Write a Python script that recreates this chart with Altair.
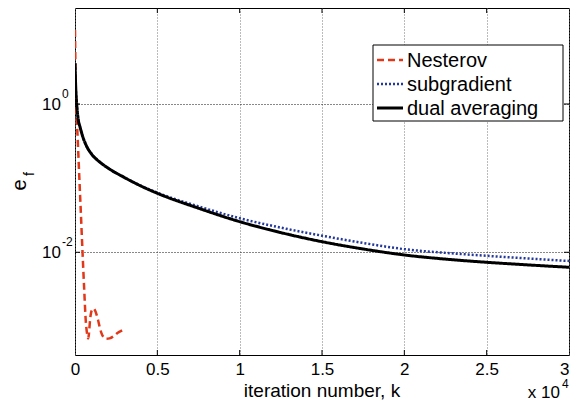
import altair as alt
import pandas as pd

# ---------------- data ----------------
series_names = ["Nesterov", "subgradient", "dual averaging"]
series_colors = ["#e2381a", "#23389a", "#000000"]
series_dash = [[7, 4], [2, 2], [1, 0]]
series_width = [2.5, 2.5, 3]

nest_k = [0, 30, 60, 100, 140, 200, 260, 340, 460, 560, 650, 720, 770, 800, 830,
          870, 920, 980, 1050, 1120, 1200, 1300, 1400, 1500, 1600, 1750, 1900,
          2100, 2350, 2600, 2800, 3000]
nest_e = [9.95, 2.88, 1.03, 0.647, 0.446, 0.218, 0.105, 0.041, 0.0097, 0.00312,
          0.00122, 0.00084, 0.00072, 0.00069, 0.00074, 0.00092, 0.00126, 0.00154,
          0.00169, 0.00175, 0.00167, 0.00147, 0.00122, 0.00098, 0.00082, 0.00071,
          0.00068, 0.00069, 0.00074, 0.00082, 0.00087, 0.00092]

sub_k = [0, 50, 100, 200, 300, 500, 700, 1000, 1500, 2000, 3000, 4000, 5000,
         7500, 10000, 12500, 15000, 17500, 20000, 22500, 25000, 27500, 30000]
sub_e = [3.54, 1.55, 1.02, 0.608, 0.494, 0.348, 0.271, 0.212, 0.165, 0.137,
         0.102, 0.079, 0.0636, 0.0416, 0.0288, 0.0215, 0.01675, 0.01336, 0.01102,
         0.00982, 0.00897, 0.00825, 0.00764]

dual_k = [0, 50, 100, 200, 300, 500, 700, 1000, 1500, 2000, 3000, 4000, 5000,
          7500, 10000, 12500, 15000, 17500, 20000, 22500, 25000, 27500, 30000]
dual_e = [3.54, 1.55, 1.02, 0.608, 0.494, 0.348, 0.271, 0.212, 0.165, 0.137,
          0.102, 0.0784, 0.0625, 0.0393, 0.0259, 0.01844, 0.0139, 0.01108, 0.0092,
          0.00809, 0.00733, 0.00676, 0.00628]

x_tick_values = [0, 5000, 10000, 15000, 20000, 25000, 30000]
x_inner_ticks = [5000, 10000, 15000, 20000, 25000]
y_tick_values = [1, 0.01]
y_tick_sup = ["0", "-2"]
x_title = "iteration number, k"

# ---------------- build tables ----------------
df = pd.concat([
    pd.DataFrame({"k": nest_k, "e": nest_e, "series": series_names[0]}),
    pd.DataFrame({"k": sub_k, "e": sub_e, "series": series_names[1]}),
    pd.DataFrame({"k": dual_k, "e": dual_e, "series": series_names[2]}),
], ignore_index=True)

W, H = 494, 347
FONT = "Liberation Sans"

xs = alt.Scale(domain=[0, 30000], nice=False, zero=False)
ys = alt.Scale(type="log", domain=[4.12e-4, 19.7], nice=False)

x_axis = alt.Axis(
    values=x_tick_values, labelExpr="datum.value / 10000 + ''",
    labelFontSize=17, labelPadding=6, ticks=False, tickSize=0, domain=False,
    grid=True, gridColor="#777777", gridDash=[1, 2], gridWidth=1,
    labelFlush=False, labelOverlap=False,
    labelAlign={"condition": {"test": "datum.value >= 30000", "value": "right"},
                "value": "center"},
    title=None,
)
y_axis = alt.Axis(
    values=y_tick_values, labels=False, ticks=False, tickSize=0, domain=False,
    grid=True, gridColor="#111111", gridDash=[1, 2], gridWidth=1, title=None,
)

layers = []
for i, name in enumerate(series_names):
    layers.append(
        alt.Chart(df).transform_filter(alt.datum.series == name)
        .mark_line(strokeWidth=series_width[i], interpolate="monotone", clip=True,
                   strokeCap="butt", color=series_colors[i],
                   strokeDash=series_dash[i])
        .encode(
            x=alt.X("k:Q", scale=xs, axis=x_axis),
            y=alt.Y("e:Q", scale=ys, axis=y_axis),
        )
    )

xt = pd.DataFrame({"k": x_inner_ticks})
yt = pd.DataFrame({"e": y_tick_values, "sup": y_tick_sup})

tick_bottom = alt.Chart(xt).mark_rule(color="black", strokeWidth=1).encode(
    x=alt.X("k:Q", scale=xs, axis=x_axis),
    y=alt.value(H - 5), y2=alt.value(H))
tick_top = alt.Chart(xt).mark_rule(color="black", strokeWidth=1).encode(
    x=alt.X("k:Q", scale=xs, axis=x_axis),
    y=alt.value(0), y2=alt.value(5))
tick_left = alt.Chart(yt).mark_rule(color="black", strokeWidth=1).encode(
    y=alt.Y("e:Q", scale=ys, axis=y_axis), x=alt.value(0), x2=alt.value(5))
tick_right = alt.Chart(yt).mark_rule(color="black", strokeWidth=1).encode(
    y=alt.Y("e:Q", scale=ys, axis=y_axis), x=alt.value(W - 5), x2=alt.value(W))

ylab = alt.Chart(yt).mark_text(align="right", baseline="middle", fontSize=17,
                               font=FONT, color="black", dy=1).encode(
    y=alt.Y("e:Q", scale=ys, axis=y_axis), x=alt.value(-14), text=alt.value("10"))
ysup = alt.Chart(yt).mark_text(align="left", baseline="middle", fontSize=12,
                               font=FONT, color="black", dy=-10).encode(
    y=alt.Y("e:Q", scale=ys, axis=y_axis), x=alt.value(-13), text="sup:N")

one = pd.DataFrame({"a": [0]})
xtitle = alt.Chart(one).mark_text(text=x_title, align="center", baseline="alphabetic",
                                  fontSize=19, font=FONT, color="black").encode(
    x=alt.value(W / 2), y=alt.value(389))
x10 = alt.Chart(one).mark_text(text="x 10", align="right", baseline="alphabetic",
                               fontSize=17, font=FONT, color="black").encode(
    x=alt.value(485), y=alt.value(390))
x10sup = alt.Chart(one).mark_text(text="4", align="left", baseline="alphabetic",
                                  fontSize=12, font=FONT, color="black").encode(
    x=alt.value(487), y=alt.value(380))
e_lab = alt.Chart(one).mark_text(text="e", angle=270, align="center",
                                 baseline="middle", fontSize=20, font=FONT,
                                 color="black").encode(
    x=alt.value(-55), y=alt.value(177))
f_lab = alt.Chart(one).mark_text(text="f", angle=270, align="center",
                                 baseline="middle", fontSize=14, font=FONT,
                                 color="black").encode(
    x=alt.value(-45), y=alt.value(166))

# ---------------- legend box (drawn by hand, MATLAB style) ----------------
LX0, LX1, LY0, LY1 = 298, 488, 37, 113
row_y = [52, 76, 100]
leg = [alt.Chart(one).mark_rect(fill="white", stroke="black", strokeWidth=1).encode(
    x=alt.value(LX0), x2=alt.value(LX1), y=alt.value(LY0), y2=alt.value(LY1))]
for i, name in enumerate(series_names):
    leg.append(alt.Chart(one).mark_rule(color=series_colors[i],
                                        strokeWidth=series_width[i],
                                        strokeDash=series_dash[i],
                                        strokeCap="butt").encode(
        x=alt.value(LX0 + 4), x2=alt.value(LX0 + 30),
        y=alt.value(row_y[i]), y2=alt.value(row_y[i])))
    leg.append(alt.Chart(one).mark_text(text=name, align="left", baseline="middle",
                                        fontSize=20, font=FONT, color="black").encode(
        x=alt.value(LX0 + 34), y=alt.value(row_y[i] + 1)))

chart = alt.layer(
    *layers, tick_bottom, tick_top, tick_left, tick_right,
    ylab, ysup, xtitle, x10, x10sup, e_lab, f_lab, *leg,
).properties(
    width=W, height=H,
    padding={"left": 67, "top": 0, "right": 1, "bottom": 48},
    autosize=alt.AutoSizeParams(type="none"),
    background="white",
).configure_view(
    stroke="black", strokeWidth=1
).configure_axis(
    labelFont=FONT, titleFont=FONT, labelColor="black", titleColor="black"
).configure_text(font=FONT)

chart.save("out.html", embed_options={"renderer": "svg", "actions": False})
